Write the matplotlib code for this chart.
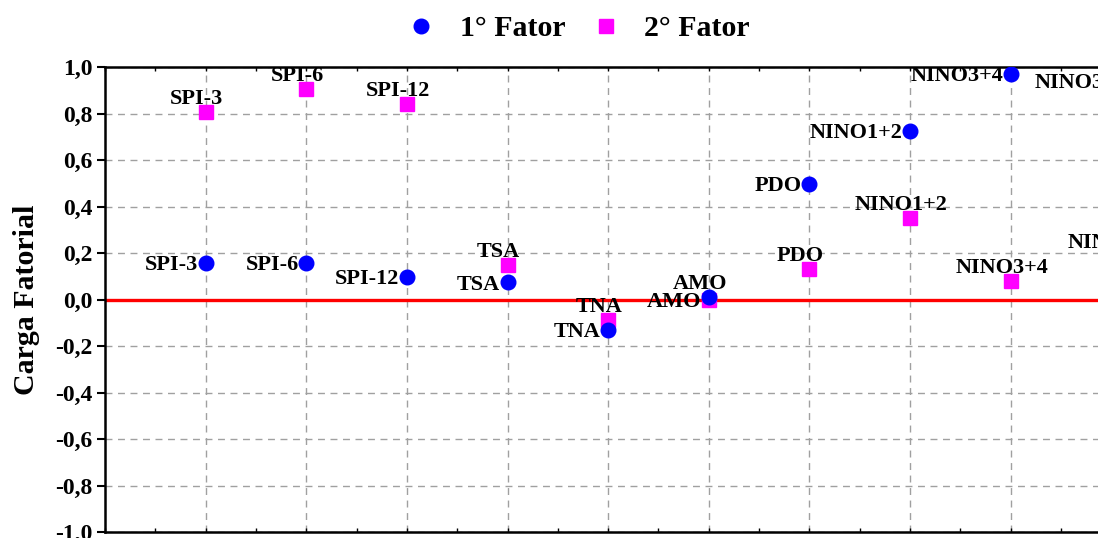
import matplotlib
matplotlib.use("Agg")
import matplotlib.pyplot as plt
from matplotlib.ticker import MultipleLocator, FixedLocator

plt.rcParams["font.family"] = ["Liberation Serif", "DejaVu Serif"]
plt.rcParams["font.weight"] = "bold"

variables = ["SPI-3", "SPI-6", "SPI-12", "TSA", "TNA", "AMO", "PDO",
             "NINO1+2", "NINO3+4", "NINO3"]
fator1 = [0.157, 0.157, 0.097, 0.075, -0.131, 0.011, 0.497, 0.725, 0.970, 0.944]
fator2 = [0.806, 0.905, 0.841, 0.148, -0.088, -0.002, 0.131, 0.351, 0.080, 0.187]
yticks = [-1.0, -0.8, -0.6, -0.4, -0.2, 0.0, 0.2, 0.4, 0.6, 0.8, 1.0]
# labels whose placement is swapped in the original figure
swap = ["AMO"]

fig = plt.figure(figsize=(10.98, 5.38), dpi=100)
ax = fig.add_axes([105 / 1098, 6 / 538, 1107 / 1098, 465 / 538])

x = list(range(1, len(variables) + 1))

ax.axhline(0, color="red", lw=2.4, zorder=2)
ax.plot(x, fator1, "o", color="blue", ms=10.5, ls="none", label="1° Fator", zorder=4)
ax.plot(x, fator2, "s", color="magenta", ms=10, ls="none", label="2° Fator", zorder=3)

left = dict(ha="right", va="center_baseline", fontsize=16, fontweight="bold",
            textcoords="offset points", xytext=(-5.5, 0))
above = dict(ha="center", va="baseline", fontsize=16, fontweight="bold",
             textcoords="offset points", xytext=(-6.5, 6))

for xi, name, v1, v2 in zip(x, variables, fator1, fator2):
    if name in swap:
        ax.annotate(name, (xi, v1), **above)
        ax.annotate(name, (xi, v2), **left)
    else:
        ax.annotate(name, (xi, v1), **left)
        ax.annotate(name, (xi, v2), **above)

ax.set_xlim(0, 11)
ax.set_ylim(-1.0, 1.0)
ax.set_yticks(yticks)
ax.set_yticklabels([f"{t:.1f}".replace(".", ",") for t in yticks], fontsize=17)
ax.xaxis.set_major_locator(FixedLocator(x))
ax.xaxis.set_minor_locator(MultipleLocator(0.5))
ax.tick_params(axis="x", which="both", direction="in", length=3, width=1,
               top=True, bottom=True, labelbottom=False)
ax.tick_params(axis="y", which="major", direction="out", length=6, width=1.5, pad=3)

ax.grid(True, color="#a0a0a0", ls=(0, (5, 4)), lw=1, zorder=0)
ax.set_axisbelow(True)
for s in ax.spines.values():
    s.set_linewidth(1.8)

ax.set_ylabel("Carga Fatorial", fontsize=21.5, fontweight="bold")
ax.yaxis.set_label_coords(40 / 1098, (538 - 299.5) / 538, transform=fig.transFigure)

fig.legend(loc="center", bbox_to_anchor=(578 / 1098, 1 - 29 / 538), ncol=2,
           frameon=False, handlelength=1.0, handletextpad=0.8,
           columnspacing=0.85, prop={"weight": "bold", "size": 21.5})

fig.savefig("out.png", dpi=100)
